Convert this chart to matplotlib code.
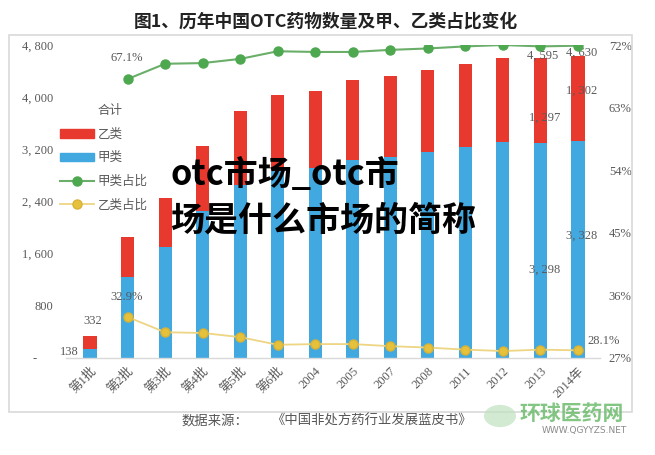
"""
图1 — 历年中国OTC药物数量及甲、乙类占比变化
堆叠柱（甲类/乙类）+ 右轴占比折线
"""
import matplotlib.pyplot as plt
import matplotlib.patches as mpatches
import matplotlib.ticker as mticker
from matplotlib.lines import Line2D

# ── 字体 ──────────────────────────────────────────────────────────────────────
plt.rcParams["font.family"] = ["Liberation Serif", "Noto Sans CJK SC"]
CJK = ["Noto Sans CJK SC", "DejaVu Sans"]

# ── 颜色 ──────────────────────────────────────────────────────────────────────
ROJO = "#E8392F"
AZUL = "#42A8E0"
VERDE = "#4EA84F"
VERDE_LINEA = "#6AAE6A"
AMARILLO = "#E6C13C"
AMARILLO_LINEA = "#EDD583"
GRIS = "#595959"
GRIS_BORDE = "#D9D9D9"

# ── 数据 ──────────────────────────────────────────────────────────────────────
categorias = ["第1批", "第2批", "第3批", "第4批", "第5批", "第6批",
              "2004", "2005", "2007", "2008", "2011", "2012", "2013", "2014年"]
total = [332, 1860, 2460, 3250, 3790, 4040, 4100, 4270, 4330, 4420,
         4510, 4600, 4595, 4630]
jia = [138, 1248, 1705, 2256, 2653, 2872, 2911, 3032, 3087, 3160,
       3238, 3305, 3298, 3328]
yi = [194, 612, 755, 994, 1137, 1168, 1189, 1238, 1243, 1260,
      1272, 1295, 1297, 1302]
# 占比从第2批开始
jia_pct = [67.1, 69.3, 69.4, 70.0, 71.1, 71.0, 71.0, 71.3, 71.5,
           71.8, 72.0, 71.8, 71.9]
yi_pct = [32.9, 30.7, 30.6, 30.0, 28.9, 29.0, 29.0, 28.7, 28.5,
          28.2, 28.0, 28.2, 28.1]

left_ticks = [0, 800, 1600, 2400, 3200, 4000, 4800]
right_ticks = [27, 36, 45, 54, 63, 72]


def miles(v):
    return f"{v:,}".replace(",", ", ")


# ── 图 ────────────────────────────────────────────────────────────────────────
W, H = 655, 455
fig = plt.figure(figsize=(W / 100, H / 100), dpi=100)
fig.patch.set_facecolor("white")

ax = fig.add_axes([65.6 / W, (H - 358) / H, (600.5 - 65.6) / W, (358 - 45) / H])
x = list(range(len(categorias)))

ax.bar(x, jia, width=0.35, color=AZUL, zorder=2)
ax.bar(x, yi, width=0.35, bottom=jia, color=ROJO, zorder=2)

ax.set_xlim(-0.65, 13.6)
ax.set_ylim(0, 4800)
ax.set_yticks(left_ticks)
ax.set_yticklabels(["-     "] + [miles(v) for v in left_ticks[1:]])
ax.tick_params(axis="y", length=0, pad=9, labelsize=9, labelcolor=GRIS)
ax.set_xticks(x)
ax.set_xticklabels(categorias, rotation=45, ha="right", va="top",
                   rotation_mode="anchor")
ax.tick_params(axis="x", length=0, pad=5, labelsize=9, labelcolor=GRIS)
for s in ["top", "left", "right"]:
    ax.spines[s].set_visible(False)
ax.spines["bottom"].set_color(GRIS_BORDE)
ax.spines["bottom"].set_linewidth(1.0)

# 右轴：占比
ax2 = ax.twinx()
xp = x[1:]
ax2.plot(xp, jia_pct, color=VERDE_LINEA, lw=1.5, marker="o", ms=6.5,
         mfc=VERDE, mec=VERDE, zorder=3)
ax2.plot(xp, yi_pct, color=AMARILLO_LINEA, lw=1.3, marker="o", ms=6.5,
         mfc=AMARILLO, mec="#D9B233", zorder=3)
ax2.set_ylim(27, 72)
ax2.set_yticks(right_ticks)
ax2.yaxis.set_major_formatter(mticker.FuncFormatter(lambda v, _: f"{v:.0f}%"))
ax2.tick_params(axis="y", length=0, pad=6, labelsize=9, labelcolor=GRIS)
for s in ax2.spines.values():
    s.set_visible(False)

# ── 数据标签 ──────────────────────────────────────────────────────────────────
lab = dict(textcoords="offset pixels", ha="center", va="center",
           fontsize=9, color=GRIS, zorder=5)
ax.annotate(miles(total[0]), xy=(0, total[0]), xytext=(3, 15), **lab)
ax.annotate(miles(jia[0]), xy=(0, jia[0]), xytext=(-21, -3), **lab)
ax.annotate(miles(total[12]), xy=(12, total[12]), xytext=(2, 3), **lab)
ax.annotate(miles(total[13]), xy=(13, total[13]), xytext=(4, 3), **lab)
ax.annotate(miles(yi[12]), xy=(12, jia[12] + yi[12] / 2), xytext=(4, -17), **lab)
ax.annotate(miles(yi[13]), xy=(13, jia[13] + yi[13] / 2), xytext=(4, 8), **lab)
ax.annotate(miles(jia[12]), xy=(12, jia[12] / 2), xytext=(4, -19), **lab)
ax.annotate(miles(jia[13]), xy=(13, jia[13] / 2), xytext=(4, 14), **lab)
ax2.annotate(f"{jia_pct[0]:.1f}%", xy=(1, jia_pct[0]), xytext=(-1, 21), **lab)
ax2.annotate(f"{yi_pct[0]:.1f}%", xy=(1, yi_pct[0]), xytext=(-1, 20), **lab)
ax2.annotate(f"{yi_pct[-1]:.1f}%", xy=(13, yi_pct[-1]), xytext=(26, 9), **lab)

# ── 图例 ──────────────────────────────────────────────────────────────────────
handles = [
    Line2D([], [], color="none"),
    mpatches.Patch(color=ROJO),
    mpatches.Patch(color=AZUL),
    Line2D([], [], color=VERDE_LINEA, lw=1.5, marker="o", ms=6.5,
           mfc=VERDE, mec=VERDE),
    Line2D([], [], color=AMARILLO_LINEA, lw=1.3, marker="o", ms=6.5,
           mfc=AMARILLO, mec="#D9B233"),
]
fig.legend(handles, ["合计", "乙类", "甲类", "甲类占比", "乙类占比"],
           loc="upper left", bbox_to_anchor=(60 / W, 1 - 104 / H),
           frameon=False, borderpad=0, borderaxespad=0,
           handlelength=2.7, handletextpad=0.3, labelspacing=0.85,
           prop={"family": CJK, "size": 9}, labelcolor=GRIS)

# ── 标题、边框、来源 ──────────────────────────────────────────────────────────
fig.text(326 / W, 1 - 22 / H, "图1、历年中国OTC药物数量及甲、乙类占比变化",
         ha="center", va="center", fontsize=12.8, fontweight="bold",
         family=CJK, color="#222222")
fig.patches.append(mpatches.Rectangle((9 / W, 1 - 412 / H), 623 / W, 377 / H,
                                      transform=fig.transFigure, fill=False,
                                      ec=GRIS_BORDE, lw=1.2))
fig.text(182 / W, 1 - 421 / H, "数据来源：", ha="left", va="center",
         fontsize=9.6, family=CJK, color="#555555")
fig.text(272 / W, 1 - 421 / H, "《中国非处方药行业发展蓝皮书》", ha="left",
         va="center", fontsize=9.6, family=CJK, color="#555555")
fig.patches.append(mpatches.Circle((500 / W, 1 - 416 / H), 16 / W,
                                   transform=fig.transFigure,
                                   fc="#BFE0BF", ec="none", alpha=0.7))
fig.text(520 / W, 1 - 413 / H, "环球医药网", ha="left", va="center",
         fontsize=15, fontweight="bold", family=CJK, color="#6DBB6D", alpha=0.85)
fig.text(627 / W, 1 - 430 / H, "WWW.QGYYZS.NET", ha="right", va="center",
         fontsize=6.5, family="DejaVu Sans", color="#8A8A8A")

# ── 覆盖文字 ──────────────────────────────────────────────────────────────────
fig.text(170 / W, 1 - 175 / H, "otc市场_otc市", ha="left", va="center",
         fontsize=24.5, fontweight="bold", family=CJK, color="black")
fig.text(170 / W, 1 - 220 / H, "场是什么市场的简称", ha="left", va="center",
         fontsize=24.5, fontweight="bold", family=CJK, color="black")

fig.savefig("out.png", dpi=100)
